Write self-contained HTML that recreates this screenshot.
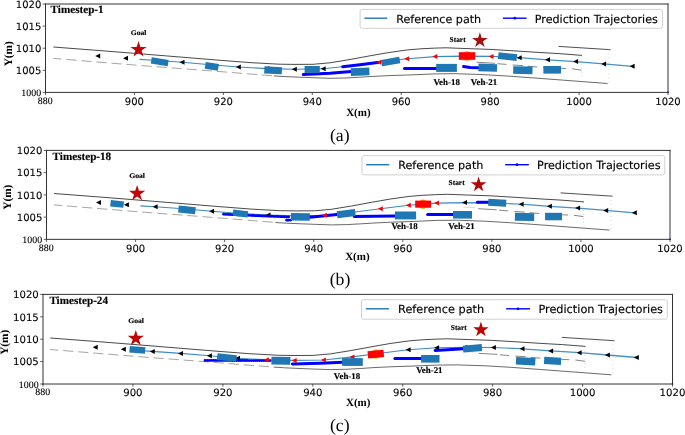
<!DOCTYPE html>
<html><head><meta charset="utf-8"><title>Trajectory prediction timesteps</title>
<style>html,body{margin:0;padding:0;background:#fff}svg{display:block}</style></head>
<body>
<svg width="685" height="435" viewBox="0 0 685 435" text-rendering="geometricPrecision">
<rect x="0" y="0" width="685" height="435" fill="#fff"/>
<g>
<clipPath id="c1"><rect x="45.5" y="4.0" width="622.5" height="88.4"/></clipPath>
<g clip-path="url(#c1)">
<polyline points="53.4,47.0 100.0,50.6 134.0,53.3 180.0,57.0 219.0,60.2 250.0,62.6 279.0,64.2 295.0,64.4 313.0,64.3 330.0,62.8 350.0,59.5 370.0,55.8 389.0,52.5 407.6,49.9 421.0,48.8 435.0,48.1 446.0,47.8 465.0,48.5 490.0,49.4 513.0,50.8 540.0,52.5 559.0,53.6 582.0,55.4" fill="none" stroke="#1a1a1a" stroke-width="0.8"/>
<polyline points="558.6,46.4 610.6,49.7" fill="none" stroke="#222" stroke-width="0.8"/>
<polyline points="274.0,75.9 285.0,76.6 300.0,77.2 315.0,77.8 330.0,78.3 345.0,78.0 360.0,77.2 371.0,76.5 389.0,75.6 407.6,75.0 435.0,73.9 455.0,73.7 483.0,74.6 508.0,76.1 540.0,78.4 607.5,83.5" fill="none" stroke="#444" stroke-width="0.8"/>
<polyline points="53.2,58.4 134.0,65.0 219.0,71.5 250.0,74.0 272.0,75.7" fill="none" stroke="#9a9a9a" stroke-width="0.9" stroke-dasharray="10.2 4.9" stroke-dashoffset="2"/>
<polyline points="461.6,60.6 472.7,60.9" fill="none" stroke="#ccc" stroke-width="0.8"/>
<polyline points="476.4,62.2 494.9,63.3" fill="none" stroke="#777" stroke-width="0.9"/>
<polyline points="497.4,63.7 506.4,64.4" fill="none" stroke="#777" stroke-width="0.9"/>
<polyline points="512.6,65.0 522.9,65.6" fill="none" stroke="#777" stroke-width="0.9"/>
<polyline points="527.7,66.2 537.4,67.0" fill="none" stroke="#777" stroke-width="0.9"/>
<polyline points="543.0,67.3 552.0,67.8" fill="none" stroke="#777" stroke-width="0.9"/>
<polyline points="558.0,68.2 566.0,68.5" fill="none" stroke="#777" stroke-width="0.9"/>
<polyline points="572.0,68.8 581.4,70.1" fill="none" stroke="#777" stroke-width="0.9"/>
<polyline points="581.4,55.7 581.4,76.4" fill="none" stroke="#bbb" stroke-width="0.8" stroke-dasharray="0.8 3.2"/>
<polyline points="608.9,49.5 608.9,83.2" fill="none" stroke="#bbb" stroke-width="0.8" stroke-dasharray="0.8 3.2"/>
<polyline points="139.5,59.4 154.3,60.3 182.2,62.3 210.7,64.7 238.5,67.0 267.0,68.6 294.5,69.2 323.3,68.8 351.5,65.8 379.0,62.2 406.9,58.7 435.1,56.6 463.0,56.1 491.2,56.4 519.4,57.7" fill="none" stroke="#3b8bc4" stroke-width="1.1"/>
<polyline points="519.4,57.7 547.7,59.8 575.8,61.6 603.8,63.9 632.3,66.3" fill="none" stroke="#4690c8" stroke-width="1.3"/>
<polygon points="95.2,56.1 100.2,53.6 100.2,58.6" fill="#000"/>
<polygon points="123.0,58.2 128.0,55.7 128.0,60.7" fill="#000"/>
<polygon points="151.6,60.3 156.6,57.8 156.6,62.8" fill="#000"/>
<polygon points="179.5,62.3 184.5,59.8 184.5,64.8" fill="#000"/>
<polygon points="235.8,67.0 240.8,64.5 240.8,69.5" fill="#000"/>
<polygon points="264.3,68.6 269.3,66.1 269.3,71.1" fill="#000"/>
<polygon points="291.8,69.2 296.8,66.7 296.8,71.7" fill="#000"/>
<polygon points="320.6,68.8 325.6,66.3 325.6,71.3" fill="#000"/>
<polygon points="516.7,57.7 521.7,55.2 521.7,60.2" fill="#000"/>
<polygon points="545.0,59.8 550.0,57.3 550.0,62.3" fill="#000"/>
<polygon points="573.1,61.6 578.1,59.1 578.1,64.1" fill="#000"/>
<polygon points="601.1,63.9 606.1,61.4 606.1,66.4" fill="#000"/>
<polygon points="629.6,66.3 634.6,63.8 634.6,68.8" fill="#000"/>
<polyline points="303.3,74.6 330.0,73.3 351.5,71.5" fill="none" stroke="#0000ff" stroke-width="3.0" stroke-linecap="round"/>
<polyline points="342.6,66.7 360.0,64.8 377.7,62.6" fill="none" stroke="#0000ff" stroke-width="3.0" stroke-linecap="round"/>
<polyline points="404.5,68.4 436.5,68.4" fill="none" stroke="#0000ff" stroke-width="3.0" stroke-linecap="round"/>
<polyline points="463.6,66.6 470.0,67.5 478.8,67.8" fill="none" stroke="#0000ff" stroke-width="3.0" stroke-linecap="round"/>
<polygon points="376.3,62.2 381.3,59.7 381.3,64.7" fill="#ff0000"/>
<polygon points="404.2,58.7 409.2,56.2 409.2,61.2" fill="#ff0000"/>
<polygon points="432.4,56.6 437.4,54.1 437.4,59.1" fill="#ff0000"/>
<polygon points="460.3,56.1 465.3,53.6 465.3,58.6" fill="#ff0000"/>
<polygon points="488.5,56.4 493.5,53.9 493.5,58.9" fill="#ff0000"/>
<circle cx="467.0" cy="56.0" r="4.7" fill="#ffa500"/>
<rect x="458.8" y="52.2" width="16.5" height="7.6" fill="#ff0000" transform="rotate(0.0 467.0 56.0)"/>
<rect x="151.2" y="58.6" width="17.1" height="6.3" fill="#1f77b4" transform="rotate(9.0 159.8 61.7)"/>
<rect x="205.2" y="62.9" width="13.3" height="6.8" fill="#1f77b4" transform="rotate(9.0 211.8 66.3)"/>
<rect x="264.3" y="66.7" width="17.6" height="7.2" fill="#1f77b4" transform="rotate(3.0 273.1 70.3)"/>
<rect x="304.6" y="66.0" width="15.2" height="6.9" fill="#1f77b4" transform="rotate(0.0 312.2 69.5)"/>
<rect x="350.8" y="67.8" width="18.6" height="7.9" fill="#1f77b4" transform="rotate(-2.0 360.1 71.7)"/>
<rect x="381.4" y="58.3" width="18.5" height="6.4" fill="#1f77b4" transform="rotate(-9.5 390.7 61.5)"/>
<rect x="436.2" y="63.9" width="20.7" height="8.0" fill="#1f77b4" transform="rotate(0.0 446.6 67.9)"/>
<rect x="498.2" y="53.2" width="18.7" height="6.8" fill="#1f77b4" transform="rotate(6.0 507.6 56.6)"/>
<rect x="478.4" y="63.9" width="18.6" height="7.6" fill="#1f77b4" transform="rotate(2.0 487.7 67.7)"/>
<rect x="513.2" y="66.4" width="19.3" height="7.6" fill="#1f77b4" transform="rotate(1.0 522.9 70.2)"/>
<rect x="543.4" y="66.0" width="17.6" height="7.6" fill="#1f77b4" transform="rotate(0.0 552.2 69.8)"/>
<polygon points="138.5,41.0 140.4,46.9 146.6,46.9 141.6,50.5 143.5,56.4 138.5,52.7 133.5,56.4 135.4,50.5 130.4,46.9 136.6,46.9" fill="#c00606"/>
<polygon points="479.9,32.2 481.7,37.9 487.7,37.9 482.9,41.4 484.7,47.0 479.9,43.5 475.1,47.0 476.9,41.4 472.1,37.9 478.1,37.9" fill="#a50f0f"/>
</g>
<text transform="translate(138.6 34.6) scale(1.08 1)" font-family="'Liberation Serif','DejaVu Serif',serif" font-weight="bold" font-size="7.1" text-anchor="middle" stroke="#000" stroke-width="0.15">Goal</text>
<text x="457.6" y="41.6" font-family="'Liberation Serif','DejaVu Serif',serif" font-weight="bold" font-size="7.4" text-anchor="middle" stroke="#000" stroke-width="0.15">Start</text>
<text x="446.7" y="84.5" font-family="'Liberation Serif','DejaVu Serif',serif" font-weight="bold" font-size="8.9" text-anchor="middle" stroke="#000" stroke-width="0.15">Veh-18</text>
<text x="484.0" y="84.5" font-family="'Liberation Serif','DejaVu Serif',serif" font-weight="bold" font-size="8.9" text-anchor="middle" stroke="#000" stroke-width="0.15">Veh-21</text>
<text x="50.6" y="13.2" font-family="'Liberation Serif','DejaVu Serif',serif" font-weight="bold" font-size="11.15" stroke="#000" stroke-width="0.15">Timestep-1</text>
<rect x="360.1" y="9.4" width="302.3" height="18.9" rx="2" ry="2" fill="#fff" fill-opacity="0.8" stroke="#ccc" stroke-width="0.9"/>
<line x1="364.3" y1="18.2" x2="387.2" y2="18.2" stroke="#1f77b4" stroke-width="1.4"/>
<text x="396.2" y="22.6" font-family="'DejaVu Sans','Liberation Sans',sans-serif" font-size="11.15" stroke="#000" stroke-width="0.15">Reference path</text>
<line x1="502.9" y1="18.2" x2="526.5" y2="18.2" stroke="#0000ff" stroke-width="1.4"/>
<circle cx="514.7" cy="18.2" r="1.4" fill="#0000ff"/>
<text x="534.8" y="22.6" font-family="'DejaVu Sans','Liberation Sans',sans-serif" font-size="11.15" stroke="#000" stroke-width="0.15">Prediction Trajectories</text>
<line x1="45.50" y1="3.50" x2="45.50" y2="92.90" stroke="#333" stroke-width="1"/>
<line x1="668.00" y1="3.50" x2="668.00" y2="92.90" stroke="#333" stroke-width="1"/>
<line x1="45.00" y1="4.00" x2="668.50" y2="4.00" stroke="#333" stroke-width="1"/>
<line x1="45.00" y1="92.40" x2="668.50" y2="92.40" stroke="#333" stroke-width="1"/>
<rect x="667.25" y="91.55" width="1.5" height="1.5" fill="#1a1aa8"/>
<line x1="42.70" y1="92.40" x2="45.50" y2="92.40" stroke="#333" stroke-width="0.8"/>
<text x="41.1" y="96.0" font-family="'Liberation Serif','DejaVu Serif',serif" font-size="9.9" text-anchor="end" stroke="#000" stroke-width="0.1">1000</text>
<line x1="42.70" y1="70.30" x2="45.50" y2="70.30" stroke="#333" stroke-width="0.8"/>
<text x="41.3" y="74.1" font-family="'DejaVu Sans','Liberation Sans',sans-serif" font-size="10.00" text-anchor="end" stroke="#000" stroke-width="0.1">1005</text>
<line x1="42.70" y1="48.20" x2="45.50" y2="48.20" stroke="#333" stroke-width="0.8"/>
<text x="41.3" y="52.0" font-family="'DejaVu Sans','Liberation Sans',sans-serif" font-size="10.00" text-anchor="end" stroke="#000" stroke-width="0.1">1010</text>
<line x1="42.70" y1="26.10" x2="45.50" y2="26.10" stroke="#333" stroke-width="0.8"/>
<text x="41.3" y="29.9" font-family="'DejaVu Sans','Liberation Sans',sans-serif" font-size="10.00" text-anchor="end" stroke="#000" stroke-width="0.1">1015</text>
<line x1="42.70" y1="4.00" x2="45.50" y2="4.00" stroke="#333" stroke-width="0.8"/>
<text x="41.3" y="7.8" font-family="'DejaVu Sans','Liberation Sans',sans-serif" font-size="10.00" text-anchor="end" stroke="#000" stroke-width="0.1">1020</text>
<line x1="45.50" y1="92.40" x2="45.50" y2="95.00" stroke="#333" stroke-width="0.8"/>
<text x="45.2" y="103.8" font-family="'Liberation Serif','DejaVu Serif',serif" font-size="9.9" text-anchor="middle" stroke="#000" stroke-width="0.1">880</text>
<line x1="134.43" y1="92.40" x2="134.43" y2="95.00" stroke="#333" stroke-width="0.8"/>
<text x="134.4" y="104.6" font-family="'DejaVu Sans','Liberation Sans',sans-serif" font-size="10.00" text-anchor="middle" stroke="#000" stroke-width="0.1">900</text>
<line x1="223.36" y1="92.40" x2="223.36" y2="95.00" stroke="#333" stroke-width="0.8"/>
<text x="223.4" y="104.6" font-family="'DejaVu Sans','Liberation Sans',sans-serif" font-size="10.00" text-anchor="middle" stroke="#000" stroke-width="0.1">920</text>
<line x1="312.29" y1="92.40" x2="312.29" y2="95.00" stroke="#333" stroke-width="0.8"/>
<text x="312.3" y="104.6" font-family="'DejaVu Sans','Liberation Sans',sans-serif" font-size="10.00" text-anchor="middle" stroke="#000" stroke-width="0.1">940</text>
<line x1="401.21" y1="92.40" x2="401.21" y2="95.00" stroke="#333" stroke-width="0.8"/>
<text x="401.2" y="104.6" font-family="'DejaVu Sans','Liberation Sans',sans-serif" font-size="10.00" text-anchor="middle" stroke="#000" stroke-width="0.1">960</text>
<line x1="490.14" y1="92.40" x2="490.14" y2="95.00" stroke="#333" stroke-width="0.8"/>
<text x="490.1" y="104.6" font-family="'DejaVu Sans','Liberation Sans',sans-serif" font-size="10.00" text-anchor="middle" stroke="#000" stroke-width="0.1">980</text>
<line x1="579.07" y1="92.40" x2="579.07" y2="95.00" stroke="#333" stroke-width="0.8"/>
<text x="579.1" y="104.6" font-family="'DejaVu Sans','Liberation Sans',sans-serif" font-size="10.00" text-anchor="middle" stroke="#000" stroke-width="0.1">1000</text>
<line x1="668.00" y1="92.40" x2="668.00" y2="95.00" stroke="#333" stroke-width="0.8"/>
<text x="668.0" y="104.6" font-family="'DejaVu Sans','Liberation Sans',sans-serif" font-size="10.00" text-anchor="middle" stroke="#000" stroke-width="0.1">1020</text>
<text x="358.4" y="116.0" font-family="'Liberation Serif','DejaVu Serif',serif" font-weight="bold" font-size="11" text-anchor="middle">X(m)</text>
<text x="12.1" y="53.8" font-family="'Liberation Serif','DejaVu Serif',serif" font-weight="bold" font-size="11.3" text-anchor="middle" transform="rotate(-90 12.1 53.8)">Y(m)</text>
<text x="339.8" y="141.1" font-family="'Liberation Serif','DejaVu Serif',serif" font-size="17.7" text-anchor="middle">(a)</text>
</g>
<g>
<clipPath id="c2"><rect x="46.5" y="150.4" width="623.5" height="88.9"/></clipPath>
<g clip-path="url(#c2)">
<polyline points="54.1,193.5 100.8,197.1 134.9,199.8 181.0,203.5 220.1,206.7 251.2,209.1 280.3,210.7 296.3,210.9 314.4,210.8 331.4,209.3 351.5,206.0 371.5,202.3 390.5,199.0 409.2,196.4 422.6,195.3 436.7,194.6 447.7,194.3 466.7,195.0 491.8,195.9 514.9,197.3 541.9,199.0 561.0,200.1 584.0,201.9" fill="none" stroke="#1a1a1a" stroke-width="0.8"/>
<polyline points="560.6,192.9 612.7,196.2" fill="none" stroke="#222" stroke-width="0.8"/>
<polyline points="275.3,222.5 286.3,223.2 301.3,223.8 316.4,224.4 331.4,224.9 346.4,224.6 361.5,223.8 372.5,223.1 390.5,222.2 409.2,221.6 436.7,220.4 456.7,220.2 484.8,221.2 509.8,222.7 541.9,225.0 609.6,230.1" fill="none" stroke="#444" stroke-width="0.8"/>
<polyline points="53.9,204.9 134.9,211.5 220.1,218.0 251.2,220.5 273.3,222.3" fill="none" stroke="#9a9a9a" stroke-width="0.9" stroke-dasharray="10.2 4.9" stroke-dashoffset="2"/>
<polyline points="463.3,207.1 474.5,207.4" fill="none" stroke="#ccc" stroke-width="0.8"/>
<polyline points="478.2,208.7 496.7,209.8" fill="none" stroke="#777" stroke-width="0.9"/>
<polyline points="499.2,210.2 508.2,210.9" fill="none" stroke="#777" stroke-width="0.9"/>
<polyline points="514.5,211.5 524.8,212.1" fill="none" stroke="#777" stroke-width="0.9"/>
<polyline points="529.6,212.7 539.3,213.5" fill="none" stroke="#777" stroke-width="0.9"/>
<polyline points="544.9,213.8 554.0,214.3" fill="none" stroke="#777" stroke-width="0.9"/>
<polyline points="560.0,214.7 568.0,215.0" fill="none" stroke="#777" stroke-width="0.9"/>
<polyline points="574.0,215.3 583.4,216.6" fill="none" stroke="#777" stroke-width="0.9"/>
<polyline points="583.4,202.2 583.4,223.0" fill="none" stroke="#bbb" stroke-width="0.8" stroke-dasharray="0.8 3.2"/>
<polyline points="611.0,196.0 611.0,229.8" fill="none" stroke="#bbb" stroke-width="0.8" stroke-dasharray="0.8 3.2"/>
<polyline points="140.4,205.9 155.3,206.8 183.2,208.8 211.8,211.2 239.7,213.5 268.2,215.1 295.8,215.7 324.7,215.3 353.0,212.3 380.5,208.7 408.5,205.2 436.8,203.1 464.7,202.6 493.0,202.9 521.3,204.2" fill="none" stroke="#3b8bc4" stroke-width="1.1"/>
<polyline points="521.3,204.2 549.6,206.3 577.8,208.1 605.9,210.4 634.5,212.8" fill="none" stroke="#4690c8" stroke-width="1.3"/>
<polygon points="96.0,202.6 101.0,200.1 101.0,205.1" fill="#000"/>
<polygon points="123.9,204.7 128.9,202.2 128.9,207.2" fill="#000"/>
<polygon points="152.6,206.8 157.6,204.3 157.6,209.3" fill="#000"/>
<polygon points="180.5,208.8 185.5,206.3 185.5,211.3" fill="#000"/>
<polygon points="209.1,211.2 214.1,208.7 214.1,213.7" fill="#000"/>
<polygon points="237.0,213.5 242.0,211.0 242.0,216.0" fill="#000"/>
<polygon points="265.5,215.1 270.5,212.6 270.5,217.6" fill="#000"/>
<polygon points="293.1,215.7 298.1,213.2 298.1,218.2" fill="#000"/>
<polygon points="462.0,202.6 467.0,200.1 467.0,205.1" fill="#000"/>
<polygon points="490.3,202.9 495.3,200.4 495.3,205.4" fill="#000"/>
<polygon points="518.6,204.2 523.6,201.7 523.6,206.7" fill="#000"/>
<polygon points="546.9,206.3 551.9,203.8 551.9,208.8" fill="#000"/>
<polygon points="575.1,208.1 580.1,205.6 580.1,210.6" fill="#000"/>
<polygon points="603.2,210.4 608.2,207.9 608.2,212.9" fill="#000"/>
<polygon points="631.8,212.8 636.8,210.3 636.8,215.3" fill="#000"/>
<polyline points="223.5,214.2 260.0,215.8 290.6,217.0" fill="none" stroke="#0000ff" stroke-width="2.8" stroke-linecap="round" stroke-dasharray="0.1 2.0"/>
<polyline points="286.5,220.2 292.0,220.0" fill="none" stroke="#0000ff" stroke-width="2.8" stroke-linecap="round" stroke-dasharray="0.1 2.0"/>
<polyline points="309.9,217.2 337.0,214.5" fill="none" stroke="#0000ff" stroke-width="3.0" stroke-linecap="round"/>
<polyline points="354.3,216.4 394.9,216.1" fill="none" stroke="#0000ff" stroke-width="3.0" stroke-linecap="round"/>
<polyline points="427.6,214.5 453.7,214.5" fill="none" stroke="#0000ff" stroke-width="3.0" stroke-linecap="round"/>
<polyline points="477.4,202.2 488.4,202.2" fill="none" stroke="#0000ff" stroke-width="3.0" stroke-linecap="round"/>
<polygon points="322.0,215.3 327.0,212.8 327.0,217.8" fill="#ff0000"/>
<polygon points="377.8,208.7 382.8,206.2 382.8,211.2" fill="#ff0000"/>
<polygon points="405.8,205.2 410.8,202.7 410.8,207.7" fill="#ff0000"/>
<polygon points="434.1,203.1 439.1,200.6 439.1,205.6" fill="#ff0000"/>
<circle cx="423.1" cy="204.2" r="4.7" fill="#ffa500"/>
<rect x="415.2" y="200.6" width="15.9" height="7.1" fill="#ff0000" transform="rotate(0.0 423.1 204.2)"/>
<rect x="110.5" y="200.7" width="13.2" height="6.5" fill="#1f77b4" transform="rotate(6.0 117.1 203.9)"/>
<rect x="178.4" y="206.3" width="17.1" height="7.0" fill="#1f77b4" transform="rotate(6.0 187.0 209.8)"/>
<rect x="232.9" y="210.4" width="15.0" height="6.3" fill="#1f77b4" transform="rotate(6.5 240.4 213.6)"/>
<rect x="290.9" y="213.1" width="18.9" height="7.6" fill="#1f77b4" transform="rotate(1.0 300.4 216.9)"/>
<rect x="337.0" y="210.2" width="18.4" height="7.0" fill="#1f77b4" transform="rotate(-7.0 346.2 213.7)"/>
<rect x="394.9" y="211.5" width="21.2" height="7.9" fill="#1f77b4" transform="rotate(0.0 405.5 215.4)"/>
<rect x="453.0" y="211.0" width="19.0" height="7.6" fill="#1f77b4" transform="rotate(0.0 462.5 214.8)"/>
<rect x="488.2" y="199.2" width="18.0" height="7.0" fill="#1f77b4" transform="rotate(3.0 497.2 202.7)"/>
<rect x="514.9" y="213.0" width="19.3" height="7.8" fill="#1f77b4" transform="rotate(1.0 524.5 216.9)"/>
<rect x="545.1" y="212.8" width="16.9" height="7.5" fill="#1f77b4" transform="rotate(0.0 553.6 216.5)"/>
<polygon points="137.1,184.9 139.0,190.8 145.2,190.8 140.2,194.4 142.1,200.3 137.1,196.6 132.1,200.3 134.0,194.4 129.0,190.8 135.2,190.8" fill="#c00606"/>
<polygon points="478.6,176.5 480.4,182.2 486.4,182.2 481.6,185.7 483.4,191.3 478.6,187.8 473.8,191.3 475.6,185.7 470.8,182.2 476.8,182.2" fill="#b30707"/>
</g>
<text transform="translate(137.1 178.1) scale(1.08 1)" font-family="'Liberation Serif','DejaVu Serif',serif" font-weight="bold" font-size="7.1" text-anchor="middle" stroke="#000" stroke-width="0.15">Goal</text>
<text x="456.6" y="185.1" font-family="'Liberation Serif','DejaVu Serif',serif" font-weight="bold" font-size="7.4" text-anchor="middle" stroke="#000" stroke-width="0.15">Start</text>
<text x="404.6" y="228.9" font-family="'Liberation Serif','DejaVu Serif',serif" font-weight="bold" font-size="8.9" text-anchor="middle" stroke="#000" stroke-width="0.15">Veh-18</text>
<text x="461.5" y="228.9" font-family="'Liberation Serif','DejaVu Serif',serif" font-weight="bold" font-size="8.9" text-anchor="middle" stroke="#000" stroke-width="0.15">Veh-21</text>
<text x="52.6" y="159.7" font-family="'Liberation Serif','DejaVu Serif',serif" font-weight="bold" font-size="11.15" stroke="#000" stroke-width="0.15">Timestep-18</text>
<rect x="362.0" y="155.6" width="302.8" height="19.3" rx="2" ry="2" fill="#fff" fill-opacity="0.8" stroke="#ccc" stroke-width="0.9"/>
<line x1="366.2" y1="164.7" x2="389.2" y2="164.7" stroke="#1f77b4" stroke-width="1.4"/>
<text x="398.2" y="169.0" font-family="'DejaVu Sans','Liberation Sans',sans-serif" font-size="11.18" stroke="#000" stroke-width="0.15">Reference path</text>
<line x1="505.2" y1="164.7" x2="528.8" y2="164.7" stroke="#0000ff" stroke-width="1.4"/>
<circle cx="517.0" cy="164.7" r="1.4" fill="#0000ff"/>
<text x="537.1" y="169.0" font-family="'DejaVu Sans','Liberation Sans',sans-serif" font-size="11.18" stroke="#000" stroke-width="0.15">Prediction Trajectories</text>
<line x1="46.50" y1="149.90" x2="46.50" y2="239.85" stroke="#333" stroke-width="1"/>
<line x1="670.00" y1="149.90" x2="670.00" y2="239.85" stroke="#333" stroke-width="1"/>
<line x1="46.00" y1="150.40" x2="670.50" y2="150.40" stroke="#333" stroke-width="1"/>
<line x1="46.00" y1="239.35" x2="670.50" y2="239.35" stroke="#333" stroke-width="1"/>
<rect x="669.25" y="238.50" width="1.5" height="1.5" fill="#1a1aa8"/>
<line x1="43.70" y1="239.35" x2="46.50" y2="239.35" stroke="#333" stroke-width="0.8"/>
<text x="42.1" y="242.9" font-family="'Liberation Serif','DejaVu Serif',serif" font-size="9.9" text-anchor="end" stroke="#000" stroke-width="0.1">1000</text>
<line x1="43.70" y1="217.11" x2="46.50" y2="217.11" stroke="#333" stroke-width="0.8"/>
<text x="42.3" y="220.9" font-family="'DejaVu Sans','Liberation Sans',sans-serif" font-size="10.02" text-anchor="end" stroke="#000" stroke-width="0.1">1005</text>
<line x1="43.70" y1="194.88" x2="46.50" y2="194.88" stroke="#333" stroke-width="0.8"/>
<text x="42.3" y="198.6" font-family="'DejaVu Sans','Liberation Sans',sans-serif" font-size="10.02" text-anchor="end" stroke="#000" stroke-width="0.1">1010</text>
<line x1="43.70" y1="172.64" x2="46.50" y2="172.64" stroke="#333" stroke-width="0.8"/>
<text x="42.3" y="176.4" font-family="'DejaVu Sans','Liberation Sans',sans-serif" font-size="10.02" text-anchor="end" stroke="#000" stroke-width="0.1">1015</text>
<line x1="43.70" y1="150.40" x2="46.50" y2="150.40" stroke="#333" stroke-width="0.8"/>
<text x="42.3" y="154.2" font-family="'DejaVu Sans','Liberation Sans',sans-serif" font-size="10.02" text-anchor="end" stroke="#000" stroke-width="0.1">1020</text>
<line x1="46.50" y1="239.35" x2="46.50" y2="241.95" stroke="#333" stroke-width="0.8"/>
<text x="46.2" y="250.8" font-family="'Liberation Serif','DejaVu Serif',serif" font-size="9.9" text-anchor="middle" stroke="#000" stroke-width="0.1">880</text>
<line x1="135.57" y1="239.35" x2="135.57" y2="241.95" stroke="#333" stroke-width="0.8"/>
<text x="135.6" y="251.5" font-family="'DejaVu Sans','Liberation Sans',sans-serif" font-size="10.02" text-anchor="middle" stroke="#000" stroke-width="0.1">900</text>
<line x1="224.64" y1="239.35" x2="224.64" y2="241.95" stroke="#333" stroke-width="0.8"/>
<text x="224.6" y="251.5" font-family="'DejaVu Sans','Liberation Sans',sans-serif" font-size="10.02" text-anchor="middle" stroke="#000" stroke-width="0.1">920</text>
<line x1="313.71" y1="239.35" x2="313.71" y2="241.95" stroke="#333" stroke-width="0.8"/>
<text x="313.7" y="251.5" font-family="'DejaVu Sans','Liberation Sans',sans-serif" font-size="10.02" text-anchor="middle" stroke="#000" stroke-width="0.1">940</text>
<line x1="402.79" y1="239.35" x2="402.79" y2="241.95" stroke="#333" stroke-width="0.8"/>
<text x="402.8" y="251.5" font-family="'DejaVu Sans','Liberation Sans',sans-serif" font-size="10.02" text-anchor="middle" stroke="#000" stroke-width="0.1">960</text>
<line x1="491.86" y1="239.35" x2="491.86" y2="241.95" stroke="#333" stroke-width="0.8"/>
<text x="491.9" y="251.5" font-family="'DejaVu Sans','Liberation Sans',sans-serif" font-size="10.02" text-anchor="middle" stroke="#000" stroke-width="0.1">980</text>
<line x1="580.93" y1="239.35" x2="580.93" y2="241.95" stroke="#333" stroke-width="0.8"/>
<text x="580.9" y="251.5" font-family="'DejaVu Sans','Liberation Sans',sans-serif" font-size="10.02" text-anchor="middle" stroke="#000" stroke-width="0.1">1000</text>
<line x1="670.00" y1="239.35" x2="670.00" y2="241.95" stroke="#333" stroke-width="0.8"/>
<text x="670.0" y="251.5" font-family="'DejaVu Sans','Liberation Sans',sans-serif" font-size="10.02" text-anchor="middle" stroke="#000" stroke-width="0.1">1020</text>
<text x="357.4" y="260.1" font-family="'Liberation Serif','DejaVu Serif',serif" font-weight="bold" font-size="11" text-anchor="middle">X(m)</text>
<text x="10.6" y="197.2" font-family="'Liberation Serif','DejaVu Serif',serif" font-weight="bold" font-size="11.3" text-anchor="middle" transform="rotate(-90 10.6 197.2)">Y(m)</text>
<text x="340.0" y="285.4" font-family="'Liberation Serif','DejaVu Serif',serif" font-size="17.7" text-anchor="middle">(b)</text>
</g>
<g>
<clipPath id="c3"><rect x="43.0" y="294.4" width="629.5" height="89.6"/></clipPath>
<g clip-path="url(#c3)">
<polyline points="50.3,338.0 97.5,341.6 131.9,344.3 178.5,348.1 218.0,351.3 249.4,353.7 278.7,355.3 294.9,355.5 313.2,355.4 330.4,353.9 350.6,350.6 370.9,346.9 390.1,343.5 409.0,340.9 422.5,339.8 436.7,339.1 447.8,338.8 467.1,339.5 492.4,340.4 515.7,341.8 543.0,343.5 562.3,344.6 585.6,346.4" fill="none" stroke="#1a1a1a" stroke-width="0.8"/>
<polyline points="561.9,337.4 614.5,340.7" fill="none" stroke="#222" stroke-width="0.8"/>
<polyline points="273.7,367.1 284.8,367.8 300.0,368.5 315.2,369.1 330.4,369.6 345.6,369.3 360.8,368.5 371.9,367.7 390.1,366.8 409.0,366.2 436.7,365.1 457.0,364.9 485.3,365.8 510.6,367.3 543.0,369.7 611.4,374.8" fill="none" stroke="#444" stroke-width="0.8"/>
<polyline points="50.1,349.5 131.9,356.1 218.0,362.7 249.4,365.2 271.7,366.9" fill="none" stroke="#9a9a9a" stroke-width="0.9" stroke-dasharray="10.2 4.9" stroke-dashoffset="2"/>
<polyline points="463.6,351.7 474.9,352.0" fill="none" stroke="#ccc" stroke-width="0.8"/>
<polyline points="478.6,353.3 497.4,354.4" fill="none" stroke="#777" stroke-width="0.9"/>
<polyline points="499.9,354.8 509.0,355.5" fill="none" stroke="#777" stroke-width="0.9"/>
<polyline points="515.3,356.1 525.7,356.7" fill="none" stroke="#777" stroke-width="0.9"/>
<polyline points="530.6,357.4 540.4,358.2" fill="none" stroke="#777" stroke-width="0.9"/>
<polyline points="546.1,358.5 555.2,359.0" fill="none" stroke="#777" stroke-width="0.9"/>
<polyline points="561.3,359.4 569.4,359.7" fill="none" stroke="#777" stroke-width="0.9"/>
<polyline points="575.4,360.0 585.0,361.3" fill="none" stroke="#777" stroke-width="0.9"/>
<polyline points="585.0,346.8 585.0,367.6" fill="none" stroke="#bbb" stroke-width="0.8" stroke-dasharray="0.8 3.2"/>
<polyline points="612.8,340.5 612.8,374.5" fill="none" stroke="#bbb" stroke-width="0.8" stroke-dasharray="0.8 3.2"/>
<polyline points="137.5,350.5 152.5,351.4 180.7,353.4 209.6,355.8 237.7,358.2 266.6,359.8 294.4,360.4 323.6,360.0 352.2,356.9 380.0,353.3 408.3,349.8 436.8,347.7 465.1,347.2 493.6,347.5 522.2,348.8" fill="none" stroke="#3b8bc4" stroke-width="1.1"/>
<polyline points="522.2,348.8 550.8,350.9 579.3,352.7 607.6,355.0 636.5,357.5" fill="none" stroke="#4690c8" stroke-width="1.3"/>
<polygon points="92.7,347.2 97.7,344.7 97.7,349.7" fill="#000"/>
<polygon points="120.8,349.3 125.8,346.8 125.8,351.8" fill="#000"/>
<polygon points="149.8,351.4 154.8,348.9 154.8,353.9" fill="#000"/>
<polygon points="178.0,353.4 183.0,350.9 183.0,355.9" fill="#000"/>
<polygon points="206.9,355.8 211.9,353.3 211.9,358.3" fill="#000"/>
<polygon points="235.0,358.2 240.0,355.7 240.0,360.7" fill="#000"/>
<polygon points="377.3,353.3 382.3,350.8 382.3,355.8" fill="#000"/>
<polygon points="405.6,349.8 410.6,347.3 410.6,352.3" fill="#000"/>
<polygon points="434.1,347.7 439.1,345.2 439.1,350.2" fill="#000"/>
<polygon points="462.4,347.2 467.4,344.7 467.4,349.7" fill="#000"/>
<polygon points="490.9,347.5 495.9,345.0 495.9,350.0" fill="#000"/>
<polygon points="519.5,348.8 524.5,346.3 524.5,351.3" fill="#000"/>
<polygon points="548.1,350.9 553.1,348.4 553.1,353.4" fill="#000"/>
<polygon points="576.6,352.7 581.6,350.2 581.6,355.2" fill="#000"/>
<polygon points="604.9,355.0 609.9,352.5 609.9,357.5" fill="#000"/>
<polygon points="633.8,357.5 638.8,355.0 638.8,360.0" fill="#000"/>
<polyline points="205.0,360.4 240.0,360.5 271.3,360.6" fill="none" stroke="#0000ff" stroke-width="2.8" stroke-linecap="round" stroke-dasharray="0.1 2.0"/>
<polyline points="292.4,364.0 320.0,363.2 342.6,362.2" fill="none" stroke="#0000ff" stroke-width="3.0" stroke-linecap="round"/>
<polyline points="394.9,358.5 421.4,358.5" fill="none" stroke="#0000ff" stroke-width="3.0" stroke-linecap="round"/>
<polyline points="435.1,350.5 463.4,348.7" fill="none" stroke="#0000ff" stroke-width="3.0" stroke-linecap="round"/>
<polygon points="263.9,359.8 268.9,357.3 268.9,362.3" fill="#ff0000"/>
<polygon points="291.7,360.4 296.7,357.9 296.7,362.9" fill="#ff0000"/>
<polygon points="320.9,360.0 325.9,357.5 325.9,362.5" fill="#ff0000"/>
<polygon points="349.5,356.9 354.5,354.4 354.5,359.4" fill="#ff0000"/>
<circle cx="375.8" cy="354.1" r="4.7" fill="#ffa500"/>
<rect x="367.8" y="350.5" width="16.0" height="7.3" fill="#ff0000" transform="rotate(-6.0 375.8 354.1)"/>
<rect x="129.5" y="346.6" width="15.7" height="6.5" fill="#1f77b4" transform="rotate(5.0 137.3 349.9)"/>
<rect x="217.2" y="354.2" width="19.4" height="6.7" fill="#1f77b4" transform="rotate(5.5 226.9 357.6)"/>
<rect x="271.4" y="356.9" width="18.9" height="7.7" fill="#1f77b4" transform="rotate(1.0 280.8 360.8)"/>
<rect x="342.1" y="358.1" width="20.7" height="7.8" fill="#1f77b4" transform="rotate(0.0 352.5 362.0)"/>
<rect x="421.1" y="355.0" width="18.4" height="7.6" fill="#1f77b4" transform="rotate(0.0 430.3 358.8)"/>
<rect x="463.0" y="344.9" width="19.0" height="6.9" fill="#1f77b4" transform="rotate(-5.0 472.5 348.4)"/>
<rect x="516.0" y="357.6" width="19.3" height="7.5" fill="#1f77b4" transform="rotate(3.0 525.6 361.4)"/>
<rect x="544.1" y="357.2" width="17.0" height="7.3" fill="#1f77b4" transform="rotate(3.5 552.6 360.8)"/>
<polygon points="135.8,329.9 137.7,335.8 143.9,335.8 138.9,339.4 140.8,345.3 135.8,341.6 130.8,345.3 132.7,339.4 127.7,335.8 133.9,335.8" fill="#c00606"/>
<polygon points="480.9,321.5 482.7,327.2 488.7,327.2 483.9,330.7 485.7,336.3 480.9,332.8 476.1,336.3 477.9,330.7 473.1,327.2 479.1,327.2" fill="#bd0404"/>
</g>
<text transform="translate(136.1 322.7) scale(1.08 1)" font-family="'Liberation Serif','DejaVu Serif',serif" font-weight="bold" font-size="7.1" text-anchor="middle" stroke="#000" stroke-width="0.15">Goal</text>
<text x="458.8" y="329.8" font-family="'Liberation Serif','DejaVu Serif',serif" font-weight="bold" font-size="7.4" text-anchor="middle" stroke="#000" stroke-width="0.15">Start</text>
<text x="347.0" y="378.5" font-family="'Liberation Serif','DejaVu Serif',serif" font-weight="bold" font-size="8.9" text-anchor="middle" stroke="#000" stroke-width="0.15">Veh-18</text>
<text x="429.4" y="373.2" font-family="'Liberation Serif','DejaVu Serif',serif" font-weight="bold" font-size="8.9" text-anchor="middle" stroke="#000" stroke-width="0.15">Veh-21</text>
<text x="49.4" y="303.5" font-family="'Liberation Serif','DejaVu Serif',serif" font-weight="bold" font-size="11.15" stroke="#000" stroke-width="0.15">Timestep-24</text>
<rect x="361.5" y="299.7" width="305.8" height="19.5" rx="2" ry="2" fill="#fff" fill-opacity="0.8" stroke="#ccc" stroke-width="0.9"/>
<line x1="365.8" y1="308.8" x2="388.9" y2="308.8" stroke="#1f77b4" stroke-width="1.4"/>
<text x="398.1" y="313.2" font-family="'DejaVu Sans','Liberation Sans',sans-serif" font-size="11.29" stroke="#000" stroke-width="0.15">Reference path</text>
<line x1="506.1" y1="308.8" x2="530.0" y2="308.8" stroke="#0000ff" stroke-width="1.4"/>
<circle cx="518.0" cy="308.8" r="1.4" fill="#0000ff"/>
<text x="538.4" y="313.2" font-family="'DejaVu Sans','Liberation Sans',sans-serif" font-size="11.29" stroke="#000" stroke-width="0.15">Prediction Trajectories</text>
<line x1="43.00" y1="293.90" x2="43.00" y2="384.50" stroke="#333" stroke-width="1"/>
<line x1="672.50" y1="293.90" x2="672.50" y2="384.50" stroke="#333" stroke-width="1"/>
<line x1="42.50" y1="294.40" x2="673.00" y2="294.40" stroke="#333" stroke-width="1"/>
<line x1="42.50" y1="384.00" x2="673.00" y2="384.00" stroke="#333" stroke-width="1"/>
<rect x="671.75" y="383.15" width="1.5" height="1.5" fill="#1a1aa8"/>
<line x1="40.20" y1="384.00" x2="43.00" y2="384.00" stroke="#333" stroke-width="0.8"/>
<text x="38.6" y="387.6" font-family="'Liberation Serif','DejaVu Serif',serif" font-size="9.9" text-anchor="end" stroke="#000" stroke-width="0.1">1000</text>
<line x1="40.20" y1="361.60" x2="43.00" y2="361.60" stroke="#333" stroke-width="0.8"/>
<text x="38.8" y="365.4" font-family="'DejaVu Sans','Liberation Sans',sans-serif" font-size="10.13" text-anchor="end" stroke="#000" stroke-width="0.1">1005</text>
<line x1="40.20" y1="339.20" x2="43.00" y2="339.20" stroke="#333" stroke-width="0.8"/>
<text x="38.8" y="342.9" font-family="'DejaVu Sans','Liberation Sans',sans-serif" font-size="10.13" text-anchor="end" stroke="#000" stroke-width="0.1">1010</text>
<line x1="40.20" y1="316.80" x2="43.00" y2="316.80" stroke="#333" stroke-width="0.8"/>
<text x="38.8" y="320.5" font-family="'DejaVu Sans','Liberation Sans',sans-serif" font-size="10.13" text-anchor="end" stroke="#000" stroke-width="0.1">1015</text>
<line x1="40.20" y1="294.40" x2="43.00" y2="294.40" stroke="#333" stroke-width="0.8"/>
<text x="38.8" y="298.1" font-family="'DejaVu Sans','Liberation Sans',sans-serif" font-size="10.13" text-anchor="end" stroke="#000" stroke-width="0.1">1020</text>
<line x1="43.00" y1="384.00" x2="43.00" y2="386.60" stroke="#333" stroke-width="0.8"/>
<text x="42.7" y="395.4" font-family="'Liberation Serif','DejaVu Serif',serif" font-size="9.9" text-anchor="middle" stroke="#000" stroke-width="0.1">880</text>
<line x1="132.93" y1="384.00" x2="132.93" y2="386.60" stroke="#333" stroke-width="0.8"/>
<text x="132.9" y="396.1" font-family="'DejaVu Sans','Liberation Sans',sans-serif" font-size="10.13" text-anchor="middle" stroke="#000" stroke-width="0.1">900</text>
<line x1="222.86" y1="384.00" x2="222.86" y2="386.60" stroke="#333" stroke-width="0.8"/>
<text x="222.9" y="396.1" font-family="'DejaVu Sans','Liberation Sans',sans-serif" font-size="10.13" text-anchor="middle" stroke="#000" stroke-width="0.1">920</text>
<line x1="312.79" y1="384.00" x2="312.79" y2="386.60" stroke="#333" stroke-width="0.8"/>
<text x="312.8" y="396.1" font-family="'DejaVu Sans','Liberation Sans',sans-serif" font-size="10.13" text-anchor="middle" stroke="#000" stroke-width="0.1">940</text>
<line x1="402.71" y1="384.00" x2="402.71" y2="386.60" stroke="#333" stroke-width="0.8"/>
<text x="402.7" y="396.1" font-family="'DejaVu Sans','Liberation Sans',sans-serif" font-size="10.13" text-anchor="middle" stroke="#000" stroke-width="0.1">960</text>
<line x1="492.64" y1="384.00" x2="492.64" y2="386.60" stroke="#333" stroke-width="0.8"/>
<text x="492.6" y="396.1" font-family="'DejaVu Sans','Liberation Sans',sans-serif" font-size="10.13" text-anchor="middle" stroke="#000" stroke-width="0.1">980</text>
<line x1="582.57" y1="384.00" x2="582.57" y2="386.60" stroke="#333" stroke-width="0.8"/>
<text x="582.6" y="396.1" font-family="'DejaVu Sans','Liberation Sans',sans-serif" font-size="10.13" text-anchor="middle" stroke="#000" stroke-width="0.1">1000</text>
<line x1="672.50" y1="384.00" x2="672.50" y2="386.60" stroke="#333" stroke-width="0.8"/>
<text x="672.5" y="396.1" font-family="'DejaVu Sans','Liberation Sans',sans-serif" font-size="10.13" text-anchor="middle" stroke="#000" stroke-width="0.1">1020</text>
<text x="358.2" y="405.7" font-family="'Liberation Serif','DejaVu Serif',serif" font-weight="bold" font-size="11" text-anchor="middle">X(m)</text>
<text x="7.7" y="342.3" font-family="'Liberation Serif','DejaVu Serif',serif" font-weight="bold" font-size="11.3" text-anchor="middle" transform="rotate(-90 7.7 342.3)">Y(m)</text>
<text x="339.8" y="430.5" font-family="'Liberation Serif','DejaVu Serif',serif" font-size="17.7" text-anchor="middle">(c)</text>
</g>
</svg>
</body></html>
